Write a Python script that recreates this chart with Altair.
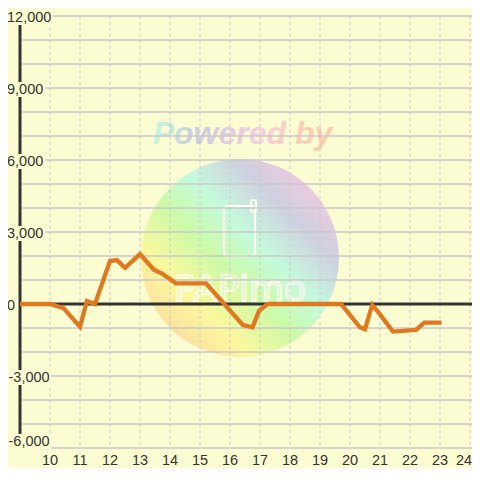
import altair as alt
import pandas as pd

# ---- data ----
hours = [9, 10, 10.45, 11, 11.23, 11.5, 11.7, 12, 12.23, 12.5, 13, 13.47, 13.72,
         14.2, 15.2, 16.43, 16.75, 16.97, 17.25, 19.7, 20.33, 20.5, 20.74, 20.93,
         21.43, 22.2, 22.48, 23.05]
diff = [0, 0, -170, -950, 120, 0, 720, 1790, 1830, 1510, 2080, 1420, 1280,
        860, 860, -875, -970, -280, 0, 0, -970, -1060, -40, -320,
        -1150, -1080, -780, -780]
x_ticks = list(range(10, 25))
y_label_values = [-6000, -3000, 0, 3000, 6000, 9000, 12000]
y_grid_values = list(range(-6000, 12001, 1000))

# ---- styling ----
BG = "#fcfcd2"
GRID = "#c8c8c8"
AXIS = "#333333"
LINE = "#e07820"
FONT = "Liberation Sans"
W, H = 452, 432

xs = alt.Scale(domain=[9, 9 + W / 30], nice=False, zero=False)
ys = alt.Scale(domain=[-6000, 12000], nice=False, zero=False)

line_df = pd.DataFrame({"h": hours, "v": diff})
xt_df = pd.DataFrame({"h": x_ticks})
yg_df = pd.DataFrame({"v": y_grid_values})
yl_df = pd.DataFrame({"v": y_label_values,
                      "label": [f"{v:,}" for v in y_label_values]})
one = pd.DataFrame({"a": [0]})

X = lambda f: alt.X(f, type="quantitative", scale=xs, axis=None)
Y = lambda f: alt.Y(f, type="quantitative", scale=ys, axis=None)

# ---- watermark ----
circle_grad = alt.LinearGradient(
    gradient="linear", x1=0, y1=1, x2=1, y2=0,
    stops=[alt.GradientStop(color="#fbc8a0", offset=0.0),
           alt.GradientStop(color="#fbf89e", offset=0.28),
           alt.GradientStop(color="#cdfaa8", offset=0.44),
           alt.GradientStop(color="#c4fadc", offset=0.58),
           alt.GradientStop(color="#cfcfe0", offset=0.74),
           alt.GradientStop(color="#f9c9de", offset=0.92),
           alt.GradientStop(color="#fbcfe0", offset=1.0)])
text_grad = alt.LinearGradient(
    gradient="linear", x1=0, y1=0, x2=1, y2=0,
    stops=[alt.GradientStop(color="#c6f8dc", offset=0.0),
           alt.GradientStop(color="#c9cde0", offset=0.22),
           alt.GradientStop(color="#e2cce2", offset=0.42),
           alt.GradientStop(color="#f9cce0", offset=0.6),
           alt.GradientStop(color="#fccdb4", offset=0.82),
           alt.GradientStop(color="#fbcca4", offset=1.0)])

circle = alt.Chart(one).mark_point(
    shape="circle", filled=True, size=198 * 198, fill=circle_grad, opacity=1, strokeWidth=0
).encode(x=alt.value(240 - 20), y=alt.value(258 - 16))

powered = alt.Chart(one).mark_text(
    text="Powered by", font=FONT, fontStyle="italic", fontWeight="bold", fontSize=32,
    fill=text_grad, align="center", baseline="alphabetic"
).encode(x=alt.value(242.5 - 20), y=alt.value(144 - 16))

phone = alt.Chart(one).mark_rect(
    fill="transparent", stroke="#fffff0", strokeWidth=2.2, cornerRadius=4
).encode(x=alt.value(224 - 20), x2=alt.value(255 - 20),
         y=alt.value(206 - 16), y2=alt.value(256 - 16))
antenna = alt.Chart(one).mark_rect(
    fill="transparent", stroke="#fffff0", strokeWidth=2.2, cornerRadius=2
).encode(x=alt.value(251 - 20), x2=alt.value(256 - 20),
         y=alt.value(200 - 16), y2=alt.value(212 - 16))
logo_text = alt.Chart(one).mark_text(
    text="PAPimo", font="DejaVu Sans", fontSize=36, fill="transparent",
    stroke="#fffff0", strokeWidth=1.6, align="center", baseline="alphabetic"
).encode(x=alt.value(240 - 20), y=alt.value(301 - 16))

# ---- grid and axes ----
vgrid = alt.Chart(xt_df).mark_rule(
    color=GRID, strokeWidth=1, strokeDash=[3, 3]
).encode(x=X("h"), y=alt.value(0), y2=alt.value(H))

hgrid = alt.Chart(yg_df).mark_rule(color=GRID, strokeWidth=1.4).encode(
    y=Y("v"), x=alt.value(0), x2=alt.value(W))

yaxis_line = alt.Chart(one).mark_rule(color=AXIS, strokeWidth=3).encode(
    x=alt.value(0), y=alt.value(0), y2=alt.value(H))

zero_line = alt.Chart(yg_df).transform_filter("datum.v == 0").mark_rule(
    color=AXIS, strokeWidth=3).encode(y=Y("v"), x=alt.value(0), x2=alt.value(W))

def label_bg(cond, right, y_off, y2_off):
    return alt.Chart(yl_df).transform_filter(cond).mark_rect(
        color=BG, opacity=1, yOffset=y_off, y2Offset=y2_off
    ).encode(y=Y("v"), y2=alt.Y2("v"), x=alt.value(-12), x2=alt.value(right))

bg_top = label_bg("datum.v == 12000", 53 - 20, -8, 9)
bg_pos = label_bg("datum.v > 0 && datum.v < 12000", 45 - 20, -6, 9)
bg_neg = label_bg("datum.v == -3000", 51 - 20, -6, 9)
bg_min = label_bg("datum.v == -6000", 51 - 20, -14, 2)

def ylabels(cond, x_page, dy=1.5):
    return alt.Chart(yl_df).transform_filter(cond).mark_text(
        font=FONT, fontSize=14.5, color=AXIS, align="left", baseline="middle", dy=dy
    ).encode(y=Y("v"), x=alt.value(x_page - 20), text="label:N")

yl_pos = ylabels("datum.v >= 0", 7)
yl_neg = ylabels("datum.v == -3000", 8.5)
yl_min = ylabels("datum.v == -6000", 8.5, dy=-6)

def xlabels(cond, dx=0):
    return alt.Chart(xt_df).transform_filter(cond).mark_text(
        font=FONT, fontSize=14.5, color=AXIS, align="center", baseline="middle", dx=dx
    ).encode(x=X("h"), y=alt.value(461 - 16), text="h:N")

xl_main = xlabels("datum.h < 24")
xl_last = xlabels("datum.h == 24", dx=-6)

# ---- data line ----
line = alt.Chart(line_df).mark_line(color=LINE, strokeWidth=4.3).encode(
    x=X("h"), y=Y("v"), order="h:Q")

chart = alt.layer(
    circle, powered, phone, antenna, logo_text,
    vgrid, hgrid, yaxis_line, zero_line,
    bg_top, bg_pos, bg_neg, bg_min,
    yl_pos, yl_neg, yl_min, xl_main, xl_last,
    line,
).properties(
    width=W, height=H,
    padding={"left": 12, "top": 8, "right": 0, "bottom": 20},
    autosize=alt.AutoSizeParams(type="none"),
    background=BG,
).configure_view(stroke=None)

chart.save("out.html", embed_options={"renderer": "svg", "actions": False})
